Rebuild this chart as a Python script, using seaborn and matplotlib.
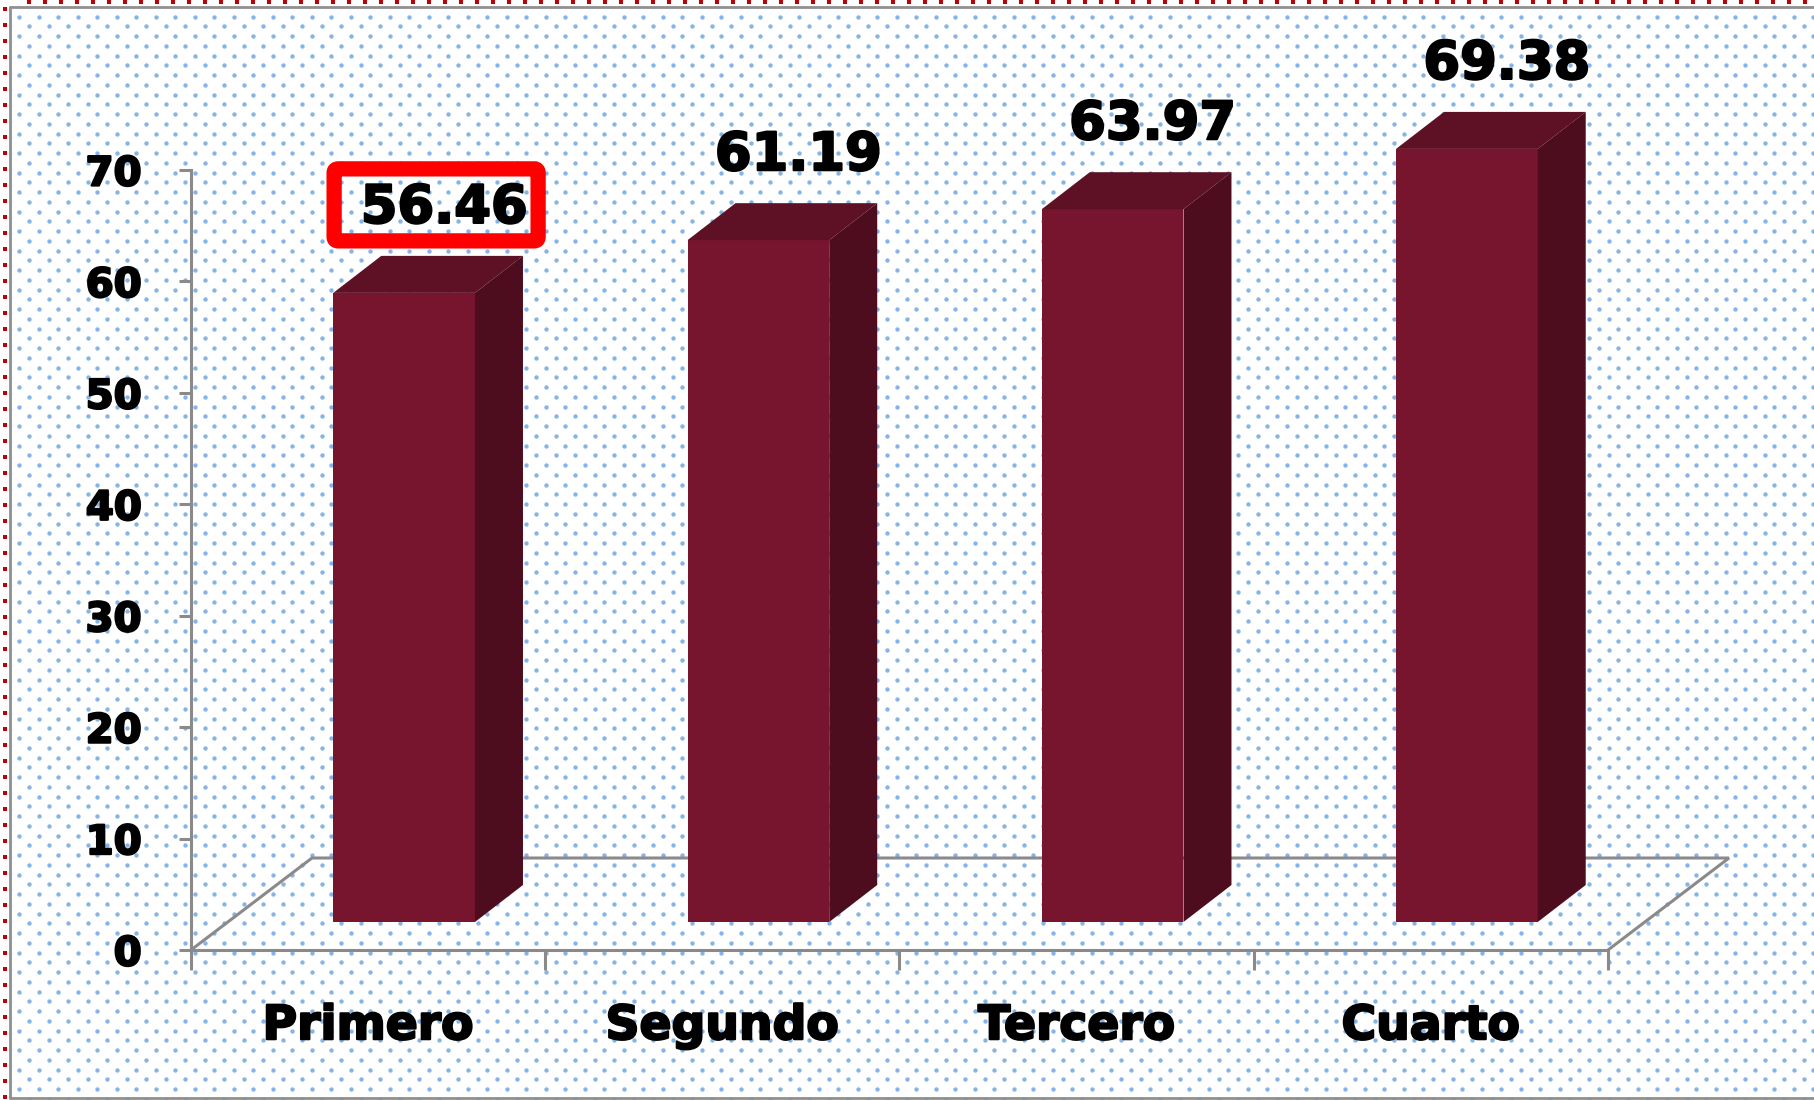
import numpy as np
import matplotlib
matplotlib.use("Agg")
import matplotlib.pyplot as plt
import matplotlib.patheffects as pe
from matplotlib.patches import Polygon, FancyBboxPatch
from matplotlib.transforms import IdentityTransform
import seaborn as sns

# Datos
categorias = ["Primero", "Segundo", "Tercero", "Cuarto"]
valores = [56.46, 61.19, 63.97, 69.38]
marcas_y = [0, 10, 20, 30, 40, 50, 60, 70]

sns.set_style("white")
plt.rcParams['font.family'] = ['DejaVu Sans']

W, H = 1815, 1100
fig = plt.figure(figsize=(W / 100, H / 100), dpi=100)
fig.patch.set_facecolor("white")

# Fondo punteado y marco
bg = fig.add_axes([0, 0, 1, 1])
bg.set_xlim(0, W)
bg.set_ylim(H, 0)
bg.axis("off")
px, py = [], []
for k, yy in enumerate(np.arange(16.7, H, 9.75)):
    x0 = 19.3 if k % 2 == 0 else 29.05
    for xx in np.arange(x0, W, 19.5):
        px.append(xx)
        py.append(yy)
bg.scatter(px, py, s=10, color="#84b5e6", linewidths=0)
bg.plot([10, 10], [7, 1098], color="#8f8f8f", lw=2)
bg.plot([10, W], [7, 7], color="#8f8f8f", lw=2)
bg.plot([10, W], [1098, 1098], color="#8f8f8f", lw=2)
rx = np.arange(29, W, 16)
bg.scatter(rx, np.full(len(rx), 1.5), marker="s", s=5, color="#c00000", linewidths=0)
ry = np.arange(9, H, 16)
bg.scatter(np.full(len(ry), 5), ry, marker="s", s=5, color="#c00000", linewidths=0)

# Geometría del gráfico
L, R = 191, 1608
B, T = 950, 170
ppx = (R - L) / 4.0
ppy = (B - T) / 70.0
gris = "#8a8a8a"
grueso = [pe.withStroke(linewidth=1.6, foreground="black")]

# Ejes (marco frontal)
ax0 = fig.add_axes([L / W, 1 - B / H, (R - L) / W, (B - T) / H])
ax0.set_xlim(-0.5, 3.5)
ax0.set_ylim(0, 70)
ax0.patch.set_alpha(0)
for s in ["top", "right"]:
    ax0.spines[s].set_visible(False)
for s in ["left", "bottom"]:
    ax0.spines[s].set_color(gris)
    ax0.spines[s].set_linewidth(2.2)

dfx, dfy = 121 / ppx, 92 / ppy
ax0.plot([-0.5, -0.5 + dfx, 3.5 + dfx, 3.5], [0, dfy, dfy, 0],
         color=gris, lw=2.2, clip_on=False, solid_joinstyle="miter")

ax0.set_yticks(marcas_y)
ax0.set_yticklabels([str(v) for v in marcas_y], fontsize=29, fontweight="bold")
ax0.tick_params(axis="y", direction="out", length=8.6, width=2.2, color=gris,
                pad=27, labelcolor="black", left=True)
ax0.set_xticks(range(len(categorias)))
ax0.set_xticklabels(categorias, fontsize=34, fontweight="bold")
ax0.tick_params(axis="x", which="major", length=0, pad=39, labelcolor="black")
ax0.set_xticks([-0.5, 0.5, 1.5, 2.5, 3.5], minor=True)
ax0.tick_params(axis="x", which="minor", direction="out", length=14.4, width=2.2,
                color=gris, bottom=True)
for lbl in ax0.get_xticklabels() + ax0.get_yticklabels():
    lbl.set_path_effects(grueso)

# Barras (cara frontal) desplazadas en profundidad
frente, arriba, lado = "#78152e", "#5e1024", "#4d0d1e"
ax = fig.add_axes([(L + 36) / W, 1 - (B - 28) / H, (R - L) / W, (B - T) / H])
sns.barplot(x=categorias, y=valores, color=frente, width=0.4, saturation=1, ax=ax)
ax.set_xlim(-0.5, 3.5)
ax.set_ylim(0, 70)
ax.axis("off")

ddx, ddy = 48 / ppx, 37 / ppy
etiquetas = []
for p, v in zip(ax.patches, valores):
    p.set_linewidth(0)
    p.set_clip_on(False)
    x0, w, h = p.get_x(), p.get_width(), p.get_height()
    ax.add_patch(Polygon([(x0, h), (x0 + w, h), (x0 + w + ddx, h + ddy), (x0 + ddx, h + ddy)],
                         closed=True, fc=arriba, ec="none", clip_on=False))
    ax.add_patch(Polygon([(x0 + w, 0), (x0 + w, h), (x0 + w + ddx, h + ddy), (x0 + w + ddx, ddy)],
                         closed=True, fc=lado, ec="none", clip_on=False))
    t = ax.text(x0 + w / 2 + 40 / ppx, h + 85 / ppy, f"{v:.2f}", ha="center", va="center",
                fontsize=38, fontweight="bold", color="black", clip_on=False,
                path_effects=grueso)
    etiquetas.append(t)

# Recuadro rojo alrededor del primer valor
fig.canvas.draw()
bb = etiquetas[0].get_window_extent()
cx, cy = (bb.x0 + bb.x1) / 2 - 8, (bb.y0 + bb.y1) / 2 + 3
bw, bh = 204, 72
caja = FancyBboxPatch((cx - bw / 2, cy - bh / 2), bw, bh,
                      boxstyle="round,pad=0,rounding_size=4", fc="none", ec="#ff0000",
                      lw=11, joinstyle="round", transform=IdentityTransform())
fig.add_artist(caja)

plt.savefig("out.png", dpi=100)
